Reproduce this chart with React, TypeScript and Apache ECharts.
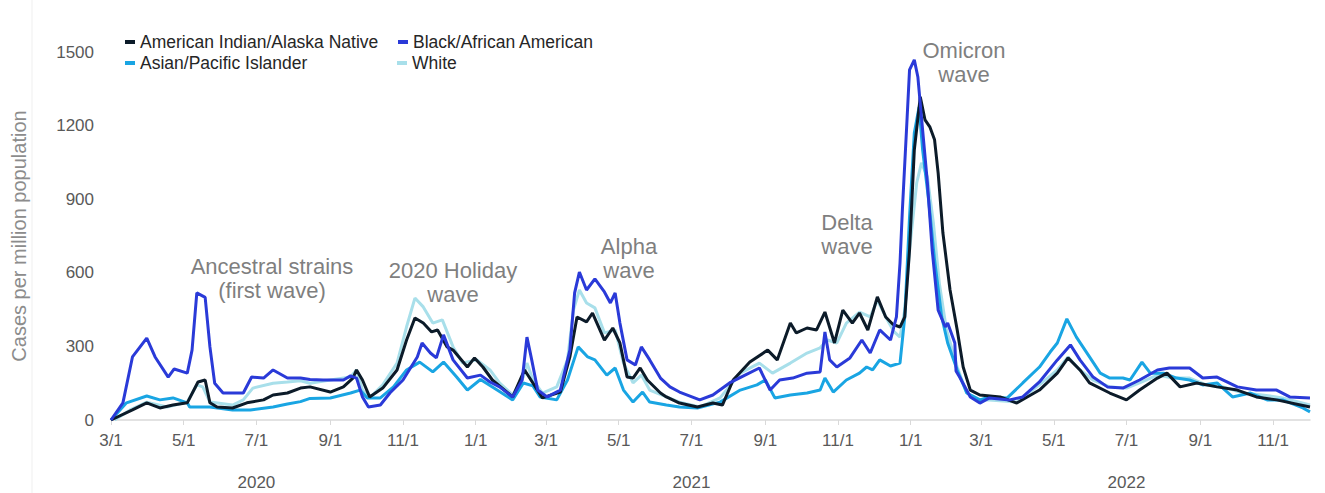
import { useEffect, useRef } from 'react';
import * as echarts from 'echarts';

// Days since 2020-03-01 paired with cases per million population (7-day average)
const START_DATE = '2020-03-01';
const END_DAY = 1006;

const seriesNames = [
  'American Indian/Alaska Native',
  'Black/African American',
  'Asian/Pacific Islander',
  'White',
];

const aianData: [number, number][] = [
  [0,0],[18,41],[30,70],[41,49],[52,61],[64,70],[73,155],[79,163],[83,70],[89,53],[102,49],[114,70],[128,82],[136,102],[148,110],[159,130],[167,135],[184,114],[195,135],[203,171],[206,204],[211,163],[217,94],[228,130],[240,204],[248,326],[255,416],[262,395],[269,359],[274,367],[282,298],[287,285],[299,216],[305,253],[312,216],[320,163],[337,94],[347,204],[354,151],[362,90],[377,114],[385,257],[391,420],[399,400],[404,436],[414,326],[421,375],[427,314],[433,175],[438,171],[444,212],[450,163],[461,110],[466,94],[477,69],[492,53],[505,69],[513,61],[522,163],[536,236],[551,285],[559,245],[570,395],[575,355],[584,375],[592,367],[599,440],[607,314],[614,448],[622,395],[628,436],[635,367],[643,502],[650,420],[656,390],[662,379],[666,420],[670,693],[674,1100],[679,1317],[683,1223],[687,1195],[691,1142],[694,1007],[698,762],[704,530],[710,367],[715,216],[721,122],[729,102],[746,94],[760,69],[779,122],[794,191],[803,253],[813,204],[821,151],[838,110],[852,82],[863,122],[878,171],[886,191],[897,135],[911,151],[928,135],[945,122],[961,94],[978,82],[1006,53],
];

const blackData: [number, number][] = [
  [0,0],[10,70],[18,257],[30,334],[37,257],[48,175],[53,208],[64,191],[68,285],[72,518],[79,500],[83,298],[87,150],[94,110],[111,110],[118,175],[128,171],[136,204],[148,171],[159,171],[167,165],[178,163],[195,163],[201,180],[206,171],[211,94],[216,53],[226,61],[234,110],[245,163],[257,257],[261,314],[268,273],[273,253],[279,347],[287,245],[299,171],[310,183],[318,155],[326,135],[337,94],[345,163],[349,338],[353,245],[358,122],[366,94],[377,122],[385,285],[389,518],[393,603],[399,530],[406,575],[414,522],[419,477],[423,518],[427,395],[433,245],[440,224],[445,298],[452,245],[461,171],[469,135],[477,114],[494,82],[505,102],[519,151],[532,183],[544,212],[553,122],[561,163],[572,171],[584,191],[595,196],[599,359],[603,245],[609,216],[620,253],[630,326],[637,273],[645,367],[654,326],[659,420],[662,640],[664,856],[668,1235],[670,1427],[674,1468],[677,1398],[680,1235],[685,966],[689,693],[694,448],[700,379],[702,395],[708,314],[709,200],[712,175],[721,94],[729,69],[737,90],[754,82],[765,94],[779,155],[794,245],[805,306],[813,245],[824,175],[836,135],[849,130],[863,163],[878,204],[888,212],[905,212],[916,171],[928,175],[945,135],[961,122],[978,122],[989,94],[1006,90],
];

const asianData: [number, number][] = [
  [0,0],[13,70],[30,98],[41,82],[52,90],[64,70],[66,53],[83,53],[102,41],[117,41],[136,53],[148,65],[159,75],[167,88],[184,90],[201,110],[209,122],[215,90],[226,90],[237,135],[248,204],[259,236],[270,196],[279,236],[290,175],[299,122],[310,165],[324,122],[337,82],[346,151],[354,139],[360,94],[374,82],[383,163],[392,298],[400,257],[406,245],[416,183],[423,212],[430,122],[438,73],[446,114],[452,73],[466,61],[477,53],[492,49],[511,73],[528,122],[542,143],[549,163],[557,90],[570,102],[584,110],[595,122],[599,171],[606,114],[617,163],[628,191],[634,216],[639,204],[645,245],[654,220],[662,232],[666,420],[670,828],[674,1170],[678,1276],[681,1100],[686,897],[691,652],[697,420],[702,314],[710,204],[718,110],[729,82],[737,94],[752,90],[765,151],[779,216],[788,277],[794,314],[802,412],[810,338],[821,257],[830,191],[838,171],[849,171],[855,163],[865,236],[872,191],[883,191],[894,171],[905,163],[916,143],[928,151],[941,94],[956,110],[970,82],[983,82],[1000,49],[1006,33],
];

const whiteData: [number, number][] = [
  [3,0],[16,41],[30,73],[47,53],[64,73],[72,143],[77,135],[83,73],[102,61],[111,82],[119,130],[136,150],[148,155],[159,160],[167,150],[184,163],[201,175],[206,204],[211,122],[217,90],[228,143],[240,232],[248,380],[255,497],[262,461],[270,395],[278,408],[287,298],[295,232],[307,245],[318,204],[326,151],[337,102],[346,175],[349,232],[354,163],[362,110],[374,135],[383,245],[388,448],[393,530],[399,477],[406,457],[414,355],[423,367],[430,232],[438,151],[445,183],[452,122],[466,94],[477,73],[494,53],[511,90],[528,191],[544,232],[555,191],[570,232],[584,273],[595,294],[601,326],[609,314],[617,395],[628,440],[637,420],[643,489],[650,420],[657,360],[662,338],[666,448],[670,693],[676,966],[680,1048],[685,991],[690,803],[695,558],[701,367],[710,216],[718,110],[729,82],[737,82],[760,73],[779,143],[794,204],[803,257],[813,204],[824,163],[838,135],[852,130],[863,151],[878,183],[891,171],[905,171],[919,143],[933,135],[950,110],[966,102],[983,90],[1006,61],
];

const monthTicks = [
  '2020-03-01','2020-05-01','2020-07-01','2020-09-01','2020-11-01',
  '2021-01-01','2021-03-01','2021-05-01','2021-07-01','2021-09-01','2021-11-01',
  '2022-01-01','2022-03-01','2022-05-01','2022-07-01','2022-09-01','2022-11-01',
];
const yearLabelDates = ['2020-07-01', '2021-07-01', '2022-07-01'];

const annotations = [
  ['Ancestral strains', '(first wave)'],
  ['2020 Holiday', 'wave'],
  ['Alpha', 'wave'],
  ['Delta', 'wave'],
  ['Omicron', 'wave'],
];

const colors = {
  aian: '#0c1b29',
  black: '#2a3ad8',
  asian: '#19a5e3',
  white: '#a8dfea',
};

const FONT = "'Liberation Sans', Arial, sans-serif";

export default function App() {
  const ref = useRef<HTMLDivElement>(null);

  useEffect(() => {
    if (!ref.current) return;
    const chart = echarts.init(ref.current, undefined, { renderer: 'svg' });
    const DAY = 86400000;
    const start = Date.parse(START_DATE);
    const end = start + END_DAY * DAY;
    const toTs = (arr: [number, number][]) => arr.map(([d, v]) => [start + d * DAY, v]);
    const ticks = monthTicks.map((s) => Date.parse(s));
    const yearTicks = yearLabelDates.map((s) => Date.parse(s));

    // annotation positions (pixel layout)
    const annPos = [
      { x: 272, y: 266 },
      { x: 453, y: 270 },
      { x: 629, y: 246 },
      { x: 847, y: 222 },
      { x: 964, y: 50 },
    ];
    const graphics: any[] = [
      {
        type: 'line',
        shape: { x1: 32, y1: 0, x2: 32, y2: 493 },
        style: { stroke: '#efefef', lineWidth: 1 },
        silent: true,
      },
    ];
    annotations.forEach((lines, i) => {
      lines.forEach((t, j) => {
        graphics.push({
          type: 'text',
          x: annPos[i].x,
          y: annPos[i].y + j * 24,
          style: {
            text: t,
            fill: '#7f7f7f',
            font: `22px ${FONT}`,
            textAlign: 'center',
            textVerticalAlign: 'middle',
          },
          silent: true,
        });
      });
    });

    const legendBase = {
      icon: 'rect',
      itemWidth: 10,
      itemHeight: 4,
      itemGap: 5,
      textStyle: { fontSize: 17.5, color: '#262626', fontFamily: FONT },
      selectedMode: false,
    };

    chart.setOption({
      animation: false,
      textStyle: { fontFamily: FONT },
      grid: { left: 111, right: 15, top: 52, bottom: 73, containLabel: false },
      legend: [
        { ...legendBase, left: 120, top: 28, data: [seriesNames[0]] },
        { ...legendBase, left: 393, top: 28, data: [seriesNames[1]] },
        { ...legendBase, left: 120, top: 49, data: [seriesNames[2]] },
        { ...legendBase, left: 392, top: 49, data: [seriesNames[3]] },
      ],
      xAxis: [
        {
          type: 'value',
          min: start,
          max: end,
          axisLine: { show: true, lineStyle: { color: '#d9d9d9', width: 1.5 } },
          axisTick: { show: true, customValues: ticks, length: 5, lineStyle: { color: '#d9d9d9' } },
          axisLabel: {
            customValues: ticks,
            color: '#595959',
            fontSize: 17,
            fontFamily: FONT,
            margin: 12,
            hideOverlap: false,
            formatter: (v: number) => {
              const d = new Date(v);
              return `${d.getUTCMonth() + 1}/${d.getUTCDate()}`;
            },
          },
          splitLine: { show: false },
        },
        {
          type: 'value',
          position: 'bottom',
          min: start,
          max: end,
          axisLine: { show: false },
          axisTick: { show: false },
          axisLabel: {
            customValues: yearTicks,
            color: '#595959',
            fontSize: 17,
            fontFamily: FONT,
            margin: 54,
            formatter: (v: number) => `${new Date(v).getUTCFullYear()}`,
          },
          splitLine: { show: false },
        },
      ],
      yAxis: {
        type: 'value',
        min: 0,
        max: 1500,
        interval: 300,
        name: 'Cases per million population',
        nameLocation: 'middle',
        nameGap: 82,
        nameTextStyle: { fontSize: 20, color: '#8c8c8c', fontFamily: FONT },
        axisLine: { show: false },
        axisTick: { show: false },
        splitLine: { show: false },
        axisLabel: {
          color: '#595959',
          fontSize: 17,
          fontFamily: FONT,
          margin: 17,
          formatter: (v: number) => String(v),
        },
      },
      series: [
        { name: seriesNames[3], type: 'line', data: toTs(whiteData), showSymbol: false, color: colors.white, lineStyle: { width: 3, color: colors.white } },
        { name: seriesNames[2], type: 'line', data: toTs(asianData), showSymbol: false, color: colors.asian, lineStyle: { width: 3, color: colors.asian } },
        { name: seriesNames[0], type: 'line', data: toTs(aianData), showSymbol: false, color: colors.aian, lineStyle: { width: 3, color: colors.aian } },
        { name: seriesNames[1], type: 'line', data: toTs(blackData), showSymbol: false, color: colors.black, lineStyle: { width: 3, color: colors.black } },
      ],
      graphic: graphics,
    });
    return () => chart.dispose();
  }, []);

  return (
    <div
      ref={ref}
      style={{ position: 'fixed', left: 0, top: 0, width: 1325, height: 493, background: '#fff' }}
    />
  );
}
